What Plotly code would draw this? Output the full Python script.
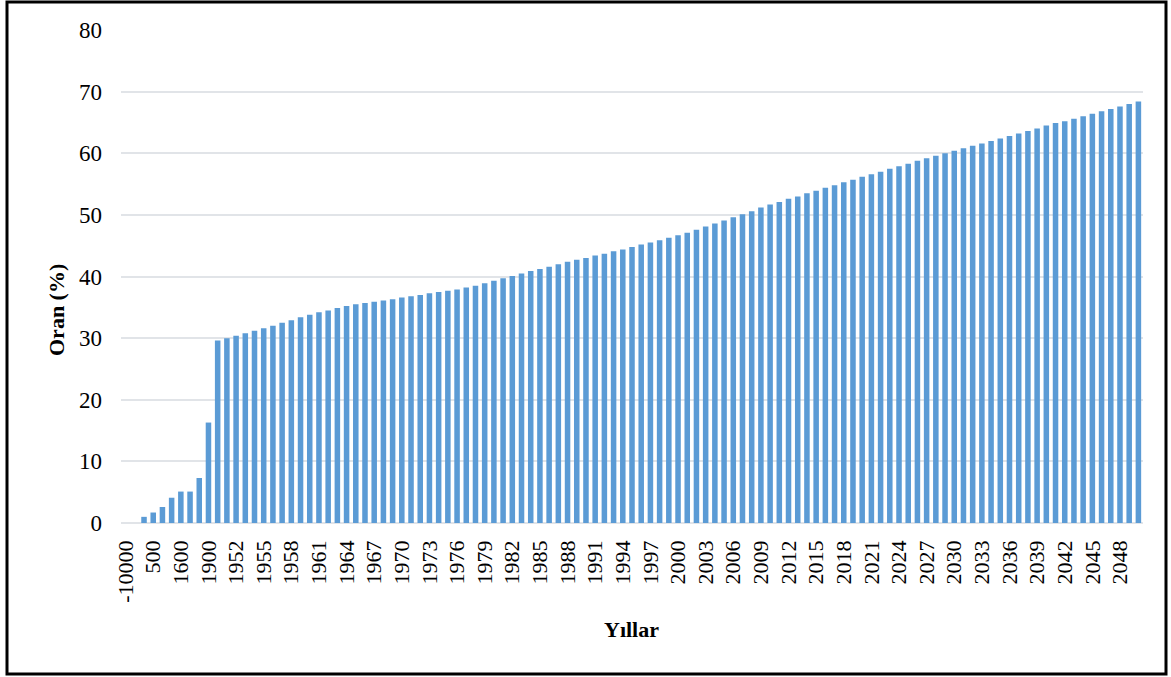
import plotly.graph_objects as go

# erken dönem + 1950-2050 yıllık kentsel nüfus oranı
early_years = ["-10000", "-3000", "1", "500", "1000", "1500", "1600", "1700", "1800", "1900"]
early_vals = [0, 0, 1.0, 1.7, 2.6, 4.1, 5.1, 5.1, 7.3, 16.3]

annual_years = [str(y) for y in range(1950, 2051)]
annual_vals = [
    29.6, 30.0, 30.4, 30.8, 31.2, 31.6, 32.0, 32.5, 32.9, 33.4,
    33.8, 34.2, 34.5, 34.9, 35.2, 35.5, 35.7, 35.9, 36.1, 36.3,
    36.6, 36.8, 37.0, 37.3, 37.5, 37.7, 37.9, 38.2, 38.5, 38.9,
    39.3, 39.7, 40.1, 40.5, 40.9, 41.2, 41.6, 42.0, 42.4, 42.7,
    43.0, 43.4, 43.7, 44.1, 44.4, 44.8, 45.2, 45.5, 45.9, 46.3,
    46.7, 47.1, 47.6, 48.1, 48.6, 49.1, 49.6, 50.1, 50.6, 51.2,
    51.7, 52.1, 52.6, 53.0, 53.5, 53.9, 54.4, 54.8, 55.3, 55.7,
    56.2, 56.6, 57.0, 57.5, 57.9, 58.3, 58.8, 59.2, 59.6, 60.0,
    60.4, 60.8, 61.2, 61.6, 62.0, 62.4, 62.8, 63.2, 63.6, 64.0,
    64.5, 64.9, 65.2, 65.6, 66.0, 66.4, 66.8, 67.2, 67.6, 68.0,
    68.4,
]

years = early_years + annual_years
vals = early_vals + annual_vals

FONT = "Times New Roman, Liberation Serif, serif"

# plot alanı piksel sınırları
L, R, T, B = 121, 1143, 30, 523
W, H = 1171, 677

fig = go.Figure(go.Bar(x=years, y=vals, marker_color="#5B9BD5", marker_line_width=0))

fig.update_layout(
    width=W, height=H,
    margin=dict(l=L, r=W - R, t=T, b=H - B),
    plot_bgcolor="white", paper_bgcolor="white",
    bargap=0.4, showlegend=False,
    font=dict(family=FONT, size=22, color="black"),
)
fig.update_xaxes(
    type="category", tickmode="array", tickvals=years[::3], ticktext=years[::3],
    tickangle=-90, showgrid=False, showline=False, ticks="",
    ticklabelstandoff=12, tickfont=dict(size=22),
)
fig.update_yaxes(
    range=[0, 80], dtick=10, showgrid=True, gridcolor="#E1E4E8", gridwidth=1.5,
    zeroline=True, zerolinecolor="#E1E4E8", zerolinewidth=1.5,
    showline=False, ticks="", ticklabelstandoff=18, tickfont=dict(size=23),
)

def px_x(p):
    return (p - L) / (R - L)

def px_y(p):
    return (B - p) / (B - T)

# eksen başlıkları
fig.add_annotation(text="<b>Oran (%)</b>", xref="paper", yref="paper",
                   x=px_x(56), y=px_y(310), xanchor="center", yanchor="middle",
                   showarrow=False, textangle=-90, font=dict(size=22))
fig.add_annotation(text="<b>Yıllar</b>", xref="paper", yref="paper",
                   x=px_x(631), y=px_y(629), xanchor="center", yanchor="middle",
                   showarrow=False, font=dict(size=22))

# dış çerçeve
fig.add_shape(type="rect", xref="paper", yref="paper",
              x0=px_x(7), x1=px_x(1166), y0=px_y(2), y1=px_y(674),
              line=dict(color="black", width=3))

fig.write_html("out.html", config={"displayModeBar": False},
               post_script="document.body.style.margin='0';")
